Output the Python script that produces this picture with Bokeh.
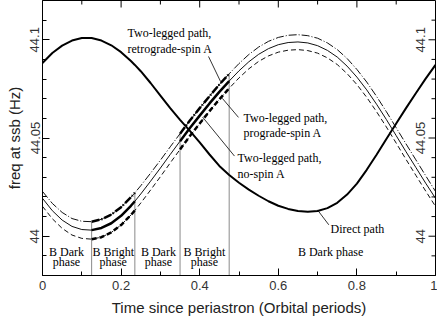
import math
from bokeh.plotting import figure
from bokeh.models import FixedTicker, Range1d, ColumnDataSource
from bokeh.core.properties import value
from bokeh.embed import file_html
from bokeh.resources import INLINE

# ---------------- data ----------------
t = [0.0, 0.025, 0.05, 0.075, 0.1, 0.125, 0.15, 0.175, 0.2, 0.225, 0.235, 0.25,
     0.275, 0.3, 0.325, 0.35, 0.375, 0.4, 0.425, 0.45, 0.475, 0.5, 0.525, 0.55,
     0.575, 0.6, 0.625, 0.65, 0.675, 0.7, 0.725, 0.75, 0.775, 0.8, 0.825, 0.85,
     0.875, 0.9, 0.925, 0.95, 0.975, 1.0]

direct = [44.0882, 44.0933, 44.0970, 44.0996, 44.1009, 44.1009, 44.0996, 44.0972,
          44.0937, 44.0892, 44.0872, 44.0840, 44.0780, 44.0716, 44.0652, 44.0592,
          44.0536, 44.0478, 44.0416, 44.0358, 44.0312, 44.0272, 44.0237, 44.0206,
          44.0178, 44.0155, 44.0139, 44.0128, 44.0124, 44.0128, 44.0143, 44.0170,
          44.0212, 44.0268, 44.0338, 44.0415, 44.0495, 44.0574, 44.0652, 44.0728,
          44.0802, 44.0872]

nospin = [44.0193, 44.0130, 44.0082, 44.0050, 44.0034, 44.0031, 44.0042, 44.0066,
          44.0104, 44.0155, 44.0178, 44.0215, 44.0280, 44.0347, 44.0416, 44.0484,
          44.0551, 44.0614, 44.0676, 44.0735, 44.0790, 44.0842, 44.0888, 44.0926,
          44.0955, 44.0975, 44.0986, 44.0989, 44.0984, 44.0970, 44.0946, 44.0912,
          44.0866, 44.0810, 44.0745, 44.0672, 44.0594, 44.0512, 44.0430, 44.0350,
          44.0270, 44.0193]

retro = [44.0228, 44.0167, 44.0121, 44.0090, 44.0076, 44.0074, 44.0086, 44.0110,
         44.0148, 44.0198, 44.0221, 44.0257, 44.0321, 44.0387, 44.0455, 44.0522,
         44.0589, 44.0652, 44.0713, 44.0772, 44.0827, 44.0879, 44.0925, 44.0963,
         44.0992, 44.1012, 44.1023, 44.1026, 44.1021, 44.1008, 44.0984, 44.0950,
         44.0905, 44.0849, 44.0785, 44.0712, 44.0634, 44.0552, 44.0470, 44.0389,
         44.0308, 44.0228]

pro = [44.0152, 44.0089, 44.0040, 44.0006, 43.9989, 43.9985, 43.9995, 44.0019,
       44.0057, 44.0108, 44.0131, 44.0169, 44.0235, 44.0303, 44.0373, 44.0442,
       44.0510, 44.0574, 44.0637, 44.0697, 44.0753, 44.0806, 44.0852, 44.0890,
       44.0918, 44.0937, 44.0947, 44.0950, 44.0945, 44.0932, 44.0908, 44.0874,
       44.0828, 44.0772, 44.0707, 44.0634, 44.0556, 44.0474, 44.0391, 44.0310,
       44.0230, 44.0152]

phase_bounds = [0.0, 0.125, 0.235, 0.35, 0.475, 1.0]
bright_phases = [(0.125, 0.235), (0.35, 0.475)]

x_ticks = [0.0, 0.2, 0.4, 0.6, 0.8, 1.0]
x_tick_labels = ["0", "0.2", "0.4", "0.6", "0.8", "1"]
x_minor = [0.1, 0.3, 0.5, 0.7, 0.9]
y_ticks = [44.0, 44.05, 44.1]
y_tick_labels = ["44", "44.05", "44.1"]
y_minor = [43.99, 44.01, 44.02, 44.03, 44.04, 44.06, 44.07, 44.08, 44.09, 44.11]

phase_line1 = ["B Dark", "B Bright", "B Dark", "B Bright", "B Dark phase"]
phase_line2 = ["phase", "phase", "phase", "phase", ""]
phase_x = [0.061, 0.18, 0.295, 0.412, 0.733]

x_title = "Time since periastron (Orbital periods)"
y_title = "freq at ssb (Hz)"

XMIN, XMAX = 0.0, 1.0
YMIN, YMAX = 43.98, 44.12

MAJ, MIN = 7, 4

# ---------------- figure ----------------
p = figure(width=437, height=322, x_range=Range1d(XMIN, XMAX),
           y_range=Range1d(YMIN, YMAX), output_backend="svg",
           toolbar_location=None, min_border_left=42, min_border_right=2,
           min_border_top=0, min_border_bottom=47)
p.grid.visible = False
p.outline_line_color = "black"
p.background_fill_color = "white"
p.border_fill_color = "white"

SANS = "Liberation Sans"

xa = p.xaxis[0]
xa.ticker = FixedTicker(ticks=x_ticks, minor_ticks=x_minor)
xa.major_label_overrides = dict(zip(x_ticks, x_tick_labels))
xa.axis_label = x_title

ya = p.yaxis[0]
ya.ticker = FixedTicker(ticks=y_ticks, minor_ticks=y_minor)
ya.major_label_overrides = dict(zip(y_ticks, y_tick_labels))
ya.axis_label = y_title
ya.major_label_orientation = "vertical"

for ax in (xa, ya):
    ax.axis_line_color = "black"
    ax.major_tick_line_color = "black"
    ax.minor_tick_line_color = "black"
    ax.major_tick_in = MAJ
    ax.major_tick_out = 0
    ax.minor_tick_in = MIN
    ax.minor_tick_out = 0
    ax.major_label_text_font = SANS
    ax.major_label_text_font_size = "13px"
    ax.major_label_text_color = "#333333"
    ax.axis_label_text_font = SANS
    ax.axis_label_text_font_size = "15px"
    ax.axis_label_text_font_style = "normal"
    ax.axis_label_text_color = "#222222"
xa.major_label_standoff = 5
xa.axis_label_standoff = 6
ya.major_label_standoff = 3
ya.axis_label_standoff = 5

# top and right ticks (inward), drawn as short rays from the frame edge
p.ray(x=x_ticks, y=[YMAX] * len(x_ticks), length=MAJ, length_units="screen",
      angle=-math.pi / 2, line_color="black", line_width=1)
p.ray(x=x_minor, y=[YMAX] * len(x_minor), length=MIN, length_units="screen",
      angle=-math.pi / 2, line_color="black", line_width=1)
p.ray(x=[XMAX] * len(y_ticks), y=y_ticks, length=MAJ, length_units="screen",
      angle=math.pi, line_color="black", line_width=1)
p.ray(x=[XMAX] * len(y_minor), y=y_minor, length=MIN, length_units="screen",
      angle=math.pi, line_color="black", line_width=1)

# right-axis labels drawn inside the frame
rsrc = ColumnDataSource(dict(x=[XMAX] * len(y_ticks), y=y_ticks, text=y_tick_labels))
p.text(x="x", y="y", text="text", source=rsrc, angle=math.pi / 2,
       x_offset=-15, text_align="center", text_baseline="middle",
       text_font=value(SANS), text_font_size="13px", text_color="#333333")

# phase boundary lines
vb = phase_bounds[1:-1]
vsrc = ColumnDataSource(dict(x=vb, y0=[YMIN] * len(vb),
                             y1=[retro[t.index(b)] for b in vb]))
p.segment(x0="x", y0="y0", x1="x", y1="y1", source=vsrc,
          line_color="#8a8a8a", line_width=1)

# direct path
p.line(t, direct, line_color="black", line_width=2)

# two-legged paths (thin over full orbit)
styles = [(retro, "8 2 1 2"), (nospin, "solid"), (pro, "5 3")]
for ys, dash in styles:
    p.line(t, ys, line_color="#111111", line_width=1, line_dash=dash)

# thick during B bright phases
for lo, hi in bright_phases:
    idx = [i for i, v in enumerate(t) if lo <= v <= hi]
    tx = [t[i] for i in idx]
    for ys, dash in styles:
        p.line(tx, [ys[i] for i in idx], line_color="black", line_width=2.5,
               line_dash=dash)

# phase labels
serif = value("Liberation Serif")
psrc1 = ColumnDataSource(dict(x=phase_x, y=[43.9922] * 5, text=phase_line1))
psrc2 = ColumnDataSource(dict(x=phase_x, y=[43.9870] * 5, text=phase_line2))
for src in (psrc1, psrc2):
    p.text(x="x", y="y", text="text", source=src, text_align="center",
           text_baseline="middle", text_font=serif, text_font_size="12px",
           text_color="black")

# annotations
ann = ColumnDataSource(dict(
    x=[0.2163, 0.2163, 0.5115, 0.5115, 0.4965, 0.4965, 0.733],
    y=[44.1033, 44.0952, 44.0601, 44.0525, 44.0398, 44.0318, 44.0035],
    text=["Two-legged path,", "retrograde-spin A", "Two-legged path,",
          "prograde-spin A", "Two-legged path,", "no-spin A", "Direct path"]))
p.text(x="x", y="y", text="text", source=ann, text_align="left",
       text_baseline="middle", text_font=serif, text_font_size="12px",
       text_color="black")

ptr = ColumnDataSource(dict(
    x0=[0.4224, 0.4575, 0.4071, 0.6997],
    y0=[44.0915, 44.0702, 44.0607, 44.0134],
    x1=[0.4530, 0.4987, 0.4885, 0.7285],
    y1=[44.0788, 44.0605, 44.0408, 44.0058]))
p.segment(x0="x0", y0="y0", x1="x1", y1="y1", source=ptr,
          line_color="black", line_width=0.8)

open("out.html", "w").write(file_html(p, INLINE))
